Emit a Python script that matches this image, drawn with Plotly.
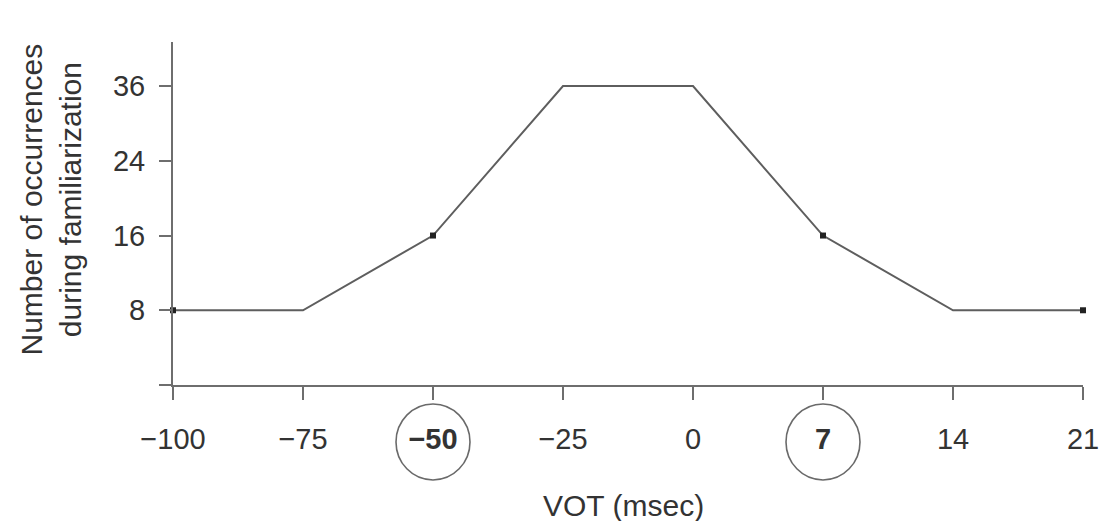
import plotly.graph_objects as go

# ---- data ----
vot_labels = ["−100", "−75", "−50", "−25", "0", "7", "14", "21"]
occurrences = [8, 8, 16, 36, 36, 16, 8, 8]
y_levels = ["0", "8", "16", "24", "36"]
y_tick_text = ["", "8", "16", "24", "36"]
x_tick_text = ["−100", "−75", "<b>−50</b>", "−25", "0", "<b>7</b>", "14", "21"]
marked_vot = ["−100", "−50", "7", "21"]
marked_occ = [8, 16, 16, 8]
circled_labels = ["−50", "7"]

FONT = "Liberation Sans, Arial, sans-serif"
TXT = "#333333"
LINE = "#6e6e6e"

fig = go.Figure()
fig.add_trace(go.Scatter(
    x=vot_labels, y=[str(v) for v in occurrences],
    mode="lines", line=dict(color="#5e5e5e", width=2),
    cliponaxis=False, showlegend=False, hoverinfo="skip"))
fig.add_trace(go.Scatter(
    x=marked_vot, y=[str(v) for v in marked_occ],
    mode="markers", marker=dict(symbol="square", size=6, color="#222222"),
    cliponaxis=False, showlegend=False, hoverinfo="skip"))

for lab in circled_labels:
    idx = vot_labels.index(lab)
    fig.add_shape(type="circle", xref="x", yref="paper",
                  xsizemode="pixel", ysizemode="pixel",
                  xanchor=idx, yanchor=-0.166,
                  x0=-37, x1=37, y0=-38, y1=38,
                  line=dict(color="#6a6a6a", width=1.6))

fig.update_xaxes(type="category", categoryorder="array", categoryarray=vot_labels,
                 range=[0, 7], showline=True, linecolor=LINE, linewidth=2,
                 ticks="outside", ticklen=13, tickwidth=2, tickcolor=LINE,
                 tickmode="array", tickvals=vot_labels, ticktext=x_tick_text,
                 tickfont=dict(family=FONT, size=29, color=TXT),
                 ticklabelstandoff=14, automargin=False,
                 showgrid=False, zeroline=False, fixedrange=True)
fig.update_yaxes(type="category", categoryorder="array", categoryarray=y_levels,
                 range=[0, 4.59], showline=True, linecolor=LINE, linewidth=2,
                 ticks="outside", ticklen=12, tickwidth=2, tickcolor=LINE,
                 tickmode="array", tickvals=y_levels, ticktext=y_tick_text,
                 tickfont=dict(family=FONT, size=29, color=TXT),
                 ticklabelstandoff=8, automargin=False,
                 showgrid=False, zeroline=False, fixedrange=True)

fig.add_annotation(text="Number of occurrences<br>during familiarization",
                   xref="paper", yref="paper", x=0, y=0.5, xshift=-123, yshift=14,
                   xanchor="center", yanchor="middle", textangle=-90, showarrow=False,
                   font=dict(family=FONT, size=30, color=TXT))
fig.add_annotation(text="VOT (msec)", xref="paper", yref="paper", x=0.5, y=0,
                   xshift=-5, yshift=-120, xanchor="center", yanchor="middle",
                   showarrow=False, font=dict(family=FONT, size=30, color=TXT))

fig.update_layout(width=1099, height=521,
                  margin=dict(l=173, r=16, t=42, b=136),
                  paper_bgcolor="white", plot_bgcolor="white")

fig.write_html("out.html")
